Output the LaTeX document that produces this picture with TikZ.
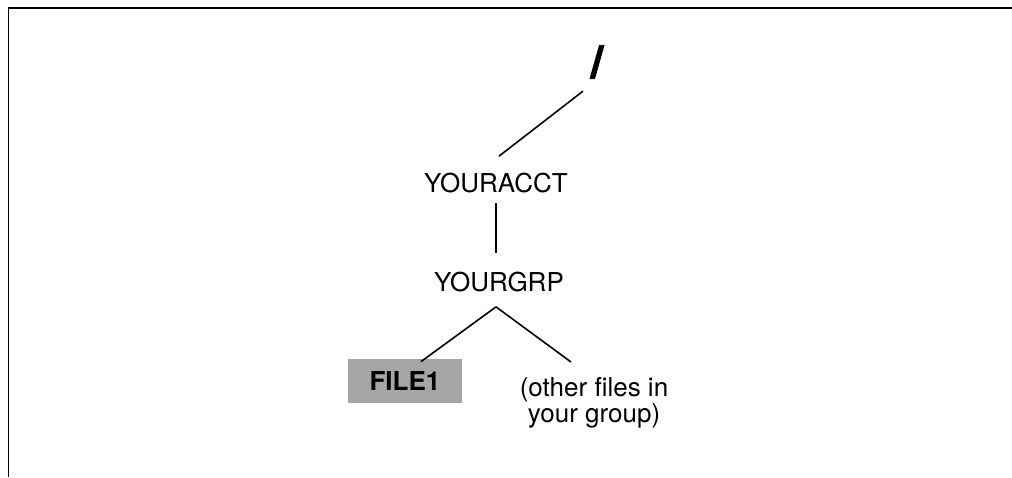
\documentclass[tikz,border=0pt]{standalone}
\usepackage{fontspec}
\setmainfont{TeX Gyre Heros}
\begin{document}
% coordinates in units of 0.5pt, y axis pointing down
\begin{tikzpicture}[x=0.5pt,y=-0.5pt,
  label/.style={inner sep=0pt, font=\fontsize{13}{13}\selectfont},
  link/.style={line width=0.8pt},
  frame/.style={line width=0.8pt}]
\useasboundingbox (0,0) rectangle (1012,477);
% open frame: top and left edges
\draw[frame] (1012,8) -- (8.5,8) -- (8.5,477);
% directory tree
\node[inner sep=0pt, font=\fontsize{23}{23}\bfseries\addfontfeatures{FakeBold=2}\selectfont] (root) at (597,62) {/};
\node[label, anchor=base] (acct) at (496,192) {YOURACCT};
\node[label, anchor=base] (grp) at (499,291) {YOURGRP};
\node[label, font=\fontsize{13}{13}\bfseries\selectfont, fill=black!35,
      minimum width=57pt, minimum height=22pt] (file) at (405,381) {FILE1};
\node[label, align=center, anchor=north] (other) at (594,377) {(other files in\\your group)};
% connectors
\draw[link] ([shift={(-14,12)}]root.south) -- ([shift={(3,-16)}]acct.north);
\draw[link] ([shift={(0,10)}]acct.south) -- ([shift={(-3,-18)}]grp.north);
\draw[link] ([shift={(-3,15)}]grp.south) -- ([shift={(16,3)}]file.north);
\draw[link] ([shift={(-3,15)}]grp.south) -- ([shift={(-23,-15)}]other.north);
\end{tikzpicture}
\end{document}
